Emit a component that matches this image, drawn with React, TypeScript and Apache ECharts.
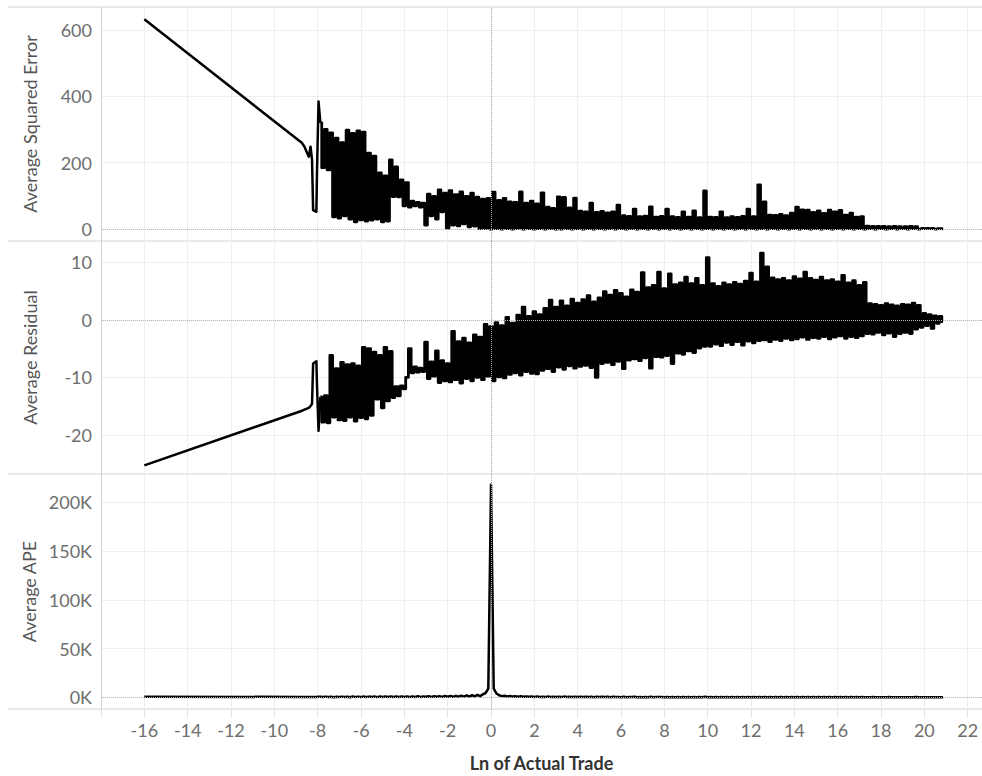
import React, { useEffect, useRef } from 'react';
import * as echarts from 'echarts';

// Ln of Actual Trade (shared by the three panels)
const xs = [
  -16, -8.72, -8.61, -8.41, -8.33, -8.26, -8.21, -8.06, -8.03, -7.96,
  -7.875, -7.75, -7.625, -7.5, -7.375, -7.25, -7.125, -7,
  -6.875, -6.75, -6.625, -6.5, -6.375, -6.25, -6.125, -6,
  -5.875, -5.75, -5.625, -5.5, -5.375, -5.25, -5.125, -5,
  -4.875, -4.75, -4.625, -4.5, -4.375, -4.25, -4.125, -4,
  -3.875, -3.75, -3.625, -3.5, -3.375, -3.25, -3.125, -3,
  -2.875, -2.75, -2.625, -2.5, -2.375, -2.25, -2.125, -2,
  -1.875, -1.75, -1.625, -1.5, -1.375, -1.25, -1.125, -1,
  -0.875, -0.75, -0.625, -0.5, -0.375, -0.25, -0.125, 0,
  0.125, 0.25, 0.375, 0.5, 0.625, 0.75, 0.875, 1,
  1.125, 1.25, 1.375, 1.5, 1.625, 1.75, 1.875, 2,
  2.125, 2.25, 2.375, 2.5, 2.625, 2.75, 2.875, 3,
  3.125, 3.25, 3.375, 3.5, 3.625, 3.75, 3.875, 4,
  4.125, 4.25, 4.375, 4.5, 4.625, 4.75, 4.875, 5,
  5.125, 5.25, 5.375, 5.5, 5.625, 5.75, 5.875, 6,
  6.125, 6.25, 6.375, 6.5, 6.625, 6.75, 6.875, 7,
  7.125, 7.25, 7.375, 7.5, 7.625, 7.75, 7.875, 8,
  8.125, 8.25, 8.375, 8.5, 8.625, 8.75, 8.875, 9,
  9.125, 9.25, 9.375, 9.5, 9.625, 9.75, 9.875, 10,
  10.125, 10.25, 10.375, 10.5, 10.625, 10.75, 10.875, 11,
  11.125, 11.25, 11.375, 11.5, 11.625, 11.75, 11.875, 12,
  12.125, 12.25, 12.375, 12.5, 12.625, 12.75, 12.875, 13,
  13.125, 13.25, 13.375, 13.5, 13.625, 13.75, 13.875, 14,
  14.125, 14.25, 14.375, 14.5, 14.625, 14.75, 14.875, 15,
  15.125, 15.25, 15.375, 15.5, 15.625, 15.75, 15.875, 16,
  16.125, 16.25, 16.375, 16.5, 16.625, 16.75, 16.875, 17,
  17.125, 17.25, 17.375, 17.5, 17.625, 17.75, 17.875, 18,
  18.125, 18.25, 18.375, 18.5, 18.625, 18.75, 18.875, 19,
  19.125, 19.25, 19.375, 19.5, 19.625, 19.75, 19.875, 20,
  20.125, 20.25, 20.375, 20.5, 20.625, 20.75, 20.86,
];

// Average Squared Error
const squaredError = [
  632, 259, 248, 218, 248, 208, 57, 52, 178, 384,
  320, 185, 300, 178, 290, 37, 274, 33,
  260, 40, 298, 30, 288, 22, 296, 28,
  292, 24, 229, 27, 220, 30, 169, 22,
  160, 24, 208, 98, 187, 97, 148, 70,
  140, 66, 84, 70, 80, 66, 78, 12,
  105, 40, 98, 30, 118, 52, 108, 3,
  116, 12, 104, 10, 112, 16, 98, 7,
  108, 9, 96, 1, 90, 2, 92, 0,
  111, 1, 86, 0, 92, 1, 82, 0,
  80, 2, 112, 0, 78, 1, 84, 0,
  76, 1, 109, 0, 66, 1, 62, 0,
  97, 0, 95, 1, 64, 0, 93, 1,
  54, 0, 52, 1, 78, 0, 50, 1,
  53, 0, 49, 1, 52, 0, 72, 1,
  40, 0, 38, 1, 60, 0, 37, 1,
  39, 0, 67, 1, 36, 0, 38, 1,
  60, 0, 37, 1, 35, 0, 52, 1,
  36, 0, 55, 1, 34, 0, 115, 1,
  36, 0, 35, 1, 52, 0, 34, 1,
  37, 0, 35, 1, 38, 0, 60, 1,
  37, 0, 133, 1, 82, 0, 42, 1,
  41, 0, 44, 1, 40, 0, 48, 1,
  66, 0, 58, 1, 57, 0, 50, 1,
  55, 0, 47, 1, 57, 0, 52, 1,
  56, 0, 42, 1, 48, 0, 36, 1,
  37, 0, 9, 1, 8, 0, 8, 1,
  8, 0, 7, 1, 8, 0, 7, 1,
  7, 0, 8, 1, 7, 0, 2, 1,
  2, 1, 2, 0, 1, 1, 0,
];

// Average Residual
const residual = [
  -25.3, -15.8, -15.6, -15.3, -15.0, -14.6, -7.6, -7.2, -11.5, -19.3,
  -13.4, -17.8, -13.2, -17.9, -6.2, -16.9, -8.5, -17.4,
  -7.4, -17.5, -7.8, -16.9, -7.6, -17.6, -8.0, -17.0,
  -4.8, -17.2, -5.0, -16.6, -5.6, -13.8, -6.2, -15.3,
  -4.8, -14.1, -5.5, -13.5, -11.6, -13.2, -11.5, -12.0,
  -10.0, -5.0, -9.2, -8.2, -9.1, -8.4, -9.0, -3.9,
  -10.2, -7.3, -9.8, -5.4, -10.9, -7.1, -10.6, -7.6,
  -10.8, -2.0, -10.4, -3.8, -11.0, -3.2, -10.2, -4.0,
  -10.6, -2.6, -10.0, -3.0, -10.4, -0.8, -9.8, -1.2,
  -10.6, -0.5, -9.9, -1.0, -10.1, 0.4, -9.5, -0.6,
  -9.2, 0.8, -9.6, 2.2, -9.0, 0.6, -9.3, 1.4,
  -9.4, 0.9, -8.8, 2.0, -8.5, 3.4, -9.0, 2.2,
  -8.2, 3.3, -8.6, 2.4, -8.0, 3.6, -8.4, 2.9,
  -8.1, 3.5, -7.9, 4.2, -8.3, 3.1, -10.0, 3.8,
  -7.6, 4.9, -7.4, 4.3, -7.8, 5.1, -7.2, 4.6,
  -8.5, 4.0, -7.0, 5.2, -6.8, 4.8, -7.1, 8.2,
  -6.6, 5.6, -8.4, 6.0, -6.4, 8.3, -6.5, 5.4,
  -6.2, 8.0, -7.6, 6.1, -5.8, 6.4, -6.0, 7.4,
  -5.4, 6.3, -5.7, 7.2, -4.9, 6.0, -4.6, 10.8,
  -4.6, 6.3, -4.2, 5.8, -4.5, 6.4, -3.9, 6.1,
  -4.3, 6.5, -3.8, 6.2, -4.4, 6.7, -3.7, 8.1,
  -4.0, 6.6, -3.6, 11.6, -3.5, 9.2, -3.8, 7.3,
  -3.4, 7.0, -3.6, 7.2, -3.2, 6.8, -3.5, 7.5,
  -3.3, 7.1, -3.0, 8.3, -3.4, 7.2, -3.1, 6.9,
  -3.2, 7.4, -2.9, 6.8, -3.3, 7.0, -3.0, 6.6,
  -2.8, 7.7, -3.2, 6.4, -2.9, 6.8, -3.1, 6.0,
  -2.8, 6.5, -2.4, 2.8, -2.5, 2.7, -2.2, 2.5,
  -2.6, 2.8, -2.3, 2.6, -2.9, 2.4, -2.4, 2.7,
  -2.2, 2.6, -2.4, 2.9, -1.6, 2.5, -1.3, 1.1,
  -1.0, 0.9, -1.5, 0.7, -0.6, 0.6, -0.3,
];

// Average APE
const ape = [
  600, 500, 500, 500, 500, 500, 400, 400, 500, 600,
  700, 300, 800, 300, 600, 200, 700, 300,
  800, 300, 700, 200, 900, 300, 800, 300,
  900, 300, 800, 400, 900, 300, 1000, 400,
  900, 400, 1000, 500, 800, 400, 900, 500,
  1000, 500, 900, 400, 1100, 500, 1000, 600,
  1200, 500, 1100, 600, 1300, 500, 1400, 700,
  1500, 600, 1600, 700, 1800, 800, 2000, 900,
  2200, 1000, 2600, 1200, 3200, 4500, 9000, 218000,
  9000, 4000, 2200, 1300, 1600, 900, 1400, 800,
  1200, 700, 1100, 600, 1000, 600, 900, 500,
  800, 400, 700, 300, 800, 400, 700, 300,
  700, 300, 800, 400, 700, 300, 600, 300,
  700, 300, 600, 300, 700, 200, 600, 300,
  600, 300, 700, 200, 600, 300, 500, 200,
  600, 200, 500, 300, 600, 200, 500, 200,
  500, 200, 600, 200, 500, 300, 500, 200,
  500, 200, 400, 200, 500, 200, 400, 200,
  400, 200, 500, 200, 400, 100, 600, 200,
  400, 200, 400, 100, 400, 200, 300, 100,
  400, 100, 300, 200, 400, 100, 300, 100,
  300, 100, 500, 100, 400, 100, 300, 100,
  300, 100, 400, 100, 300, 100, 300, 100,
  400, 100, 300, 100, 300, 100, 400, 100,
  300, 100, 300, 100, 400, 100, 300, 100,
  300, 100, 400, 100, 300, 100, 300, 100,
  300, 100, 200, 100, 300, 100, 200, 100,
  200, 100, 300, 100, 200, 100, 200, 100,
  200, 100, 200, 100, 300, 100, 200, 100,
  200, 100, 200, 100, 200, 100, 200,
];

const panelTitles = ['Average Squared Error', 'Average Residual', 'Average APE'];
const xTitle = 'Ln of Actual Trade';
const sqTicks = [0, 200, 400, 600];
const resTicks = [-20, -10, 0, 10];
const apeTicks = [0, 50000, 100000, 150000, 200000];

// index where the dense (thousands of trades) part of the x range begins
const DENSE_START = 10;

const FONT = 'Lato, "Open Sans", sans-serif';
const LABEL_COLOR = '#6e6e6e';
const GRID_COLOR = '#eeeeee';
const BORDER_COLOR = '#d4d4d4';

export default function App() {
  const ref = useRef<HTMLDivElement>(null);

  useEffect(() => {
    const chart = echarts.init(ref.current!, null, { renderer: 'svg' });

    const grids = [
      { left: 101, right: 0, top: 7, height: 234 },
      { left: 101, right: 0, top: 241, height: 233 },
      { left: 101, right: 0, top: 474, height: 235 },
    ].map((g) => ({ ...g, containLabel: false, outerBoundsMode: 'none' }));

    const xAxis = [0, 1, 2].map((i) => ({
      type: 'value',
      gridIndex: i,
      min: -18,
      max: 22.66,
      interval: 2,
      axisLine: { show: false, onZero: false },
      axisTick: {
        show: i === 2,
        length: 9,
        lineStyle: { color: '#e4e4e4' },
      },
      axisLabel: {
        show: i === 2,
        fontSize: 18,
        fontFamily: FONT,
        color: LABEL_COLOR,
        margin: 12,
        formatter: (v: number) =>
          v < -17 || v > 22.1 || Math.abs(v % 2) > 1e-6 ? '' : String(v),
      },
      splitLine: { show: true, lineStyle: { color: GRID_COLOR, width: 1 } },
      name: i === 2 ? xTitle : '',
      nameLocation: 'middle',
      nameGap: 45,
      nameTextStyle: { fontSize: 18, fontFamily: FONT, color: '#333', fontWeight: 'bold' },
    }));

    const mkY = (
      i: number,
      min: number,
      max: number,
      ticks: number[],
      fmt?: (v: number) => string
    ) => ({
      type: 'value',
      gridIndex: i,
      min,
      max,
      axisLine: { show: true, onZero: false, lineStyle: { color: BORDER_COLOR, width: 1 } },
      axisTick: { show: false, customValues: ticks },
      axisLabel: {
        customValues: ticks,
        fontSize: 18,
        fontFamily: FONT,
        color: LABEL_COLOR,
        margin: 9,
        formatter: fmt,
      },
      splitLine: { show: true, lineStyle: { color: GRID_COLOR, width: 1 } },
      name: panelTitles[i],
      nameLocation: 'middle',
      nameGap: 62,
      nameTextStyle: { fontSize: 18, fontFamily: FONT, color: '#555' },
    });

    const yAxis = [
      mkY(0, -36, 669, sqTicks),
      mkY(1, -26.8, 13.7, resTicks),
      mkY(2, -11900, 229000, apeTicks, (v: number) => v / 1000 + 'K'),
    ];

    const zeroSeries = [0, 1, 2].map((i) => ({
      type: 'line',
      xAxisIndex: i,
      yAxisIndex: i,
      data: [],
      z: 1,
      silent: true,
      markLine: {
        silent: true,
        symbol: ['none', 'none'],
        label: { show: false },
        animation: false,
        data: [
          { yAxis: 0, lineStyle: { color: '#b8b8b8', type: 'dotted', width: 1 } },
          { xAxis: 0, lineStyle: { color: '#a8a8a8', type: 'dotted', width: 1 } },
        ],
      },
    }));

    const lineSeries = (
      i: number,
      vals: number[],
      from: number,
      to: number,
      step: false | 'middle',
      width: number
    ) => ({
      type: 'line',
      name: panelTitles[i],
      xAxisIndex: i,
      yAxisIndex: i,
      data: xs.slice(from, to).map((x, j) => [x, vals[from + j]]),
      showSymbol: false,
      symbol: 'none',
      step,
      z: 3,
      lineStyle: { color: '#000', width, join: 'round' },
      itemStyle: { color: '#000' },
    });

    const dataSeries = [
      lineSeries(0, squaredError, 0, DENSE_START + 1, false, 2.5),
      lineSeries(0, squaredError, DENSE_START, xs.length, 'middle', 2.8),
      lineSeries(1, residual, 0, DENSE_START + 1, false, 2.5),
      lineSeries(1, residual, DENSE_START, xs.length, 'middle', 2.8),
      lineSeries(2, ape, 0, xs.length, false, 2.5),
    ];

    const sepYs = [7, 241, 474, 709];
    const graphic = sepYs.map((y) => ({
      type: 'line',
      silent: true,
      z: 0,
      shape: { x1: 8, y1: y, x2: 982, y2: y },
      style: { stroke: BORDER_COLOR, lineWidth: 1 },
    }));

    chart.setOption({
      animation: false,
      backgroundColor: '#ffffff',
      textStyle: { fontFamily: FONT },
      grid: grids,
      xAxis,
      yAxis,
      series: [...zeroSeries, ...dataSeries],
      graphic,
    } as any);

    return () => chart.dispose();
  }, []);

  return (
    <div
      ref={ref}
      style={{ position: 'absolute', left: 0, top: 0, width: 982, height: 776 }}
    />
  );
}
